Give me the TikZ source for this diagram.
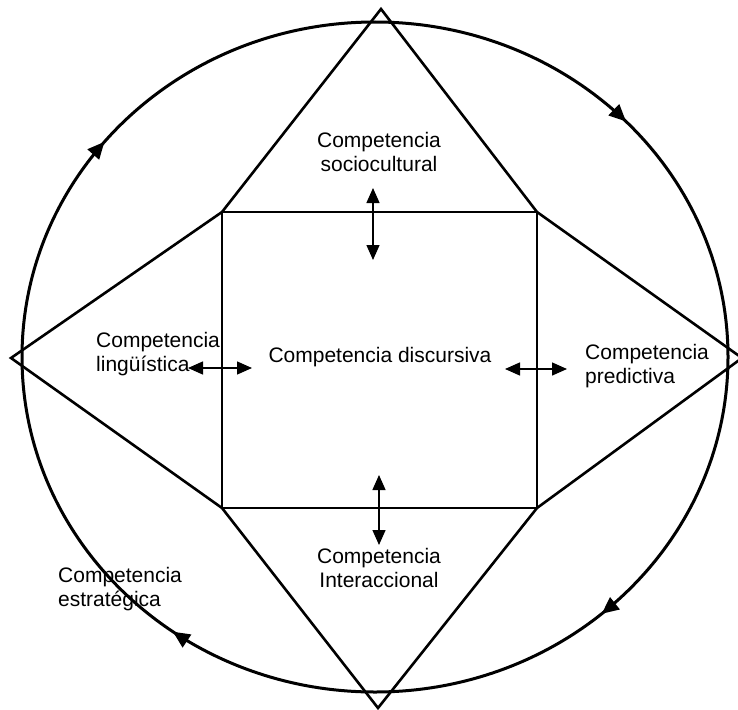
\documentclass[tikz,border=0pt]{standalone}
\usepackage{fontspec}
\setmainfont{Liberation Sans}
\usetikzlibrary{arrows.meta,decorations.markings}
\begin{document}
\begin{tikzpicture}[x=1pt,y=1pt,
  shapeline/.style={line width=2.6pt, line join=miter},
  circline/.style={line width=3pt},
  dbl/.style={line width=1.4pt, {Triangle[length=15pt,width=13pt]}-{Triangle[length=15pt,width=13pt]}},
  lbl/.style={inner sep=0pt, font=\fontsize{21}{24.5}\selectfont},
  circarrow/.style={decoration={markings,
     mark=at position 0.137 with {\arrow{Triangle[length=17pt,width=15pt]}},
     mark=at position 0.349 with {\arrow{Triangle[length=17pt,width=15pt]}},
     mark=at position 0.609 with {\arrow{Triangle[length=17pt,width=15pt]}},
     mark=at position 0.878 with {\arrow{Triangle[length=17pt,width=15pt]}}},
     postaction={decorate}}
]
\useasboundingbox (0,0) rectangle (738,-709);
% circle
\coordinate (c) at (375,-357);
\draw[circline,circarrow] (c) ++(353,0) arc[start angle=0,end angle=-360,x radius=353,y radius=335];
% square
\coordinate (sq1) at (222,-212);
\coordinate (sq2) at (537,-212);
\coordinate (sq3) at (537,-508);
\coordinate (sq4) at (222,-508);
\coordinate (vt) at (381,-9);
\coordinate (vl) at (11,-358);
\coordinate (vr) at (742,-358);
\coordinate (vb) at (378,-708);
\draw[shapeline] (sq1) -- (sq2) -- (sq3) -- (sq4) -- cycle;
\draw[shapeline] (sq1) -- (vt) -- (sq2);
\draw[shapeline] (sq2) -- (vr) -- (sq3);
\draw[shapeline] (sq3) -- (vb) -- (sq4);
\draw[shapeline] (sq4) -- (vl) -- (sq1);
% double arrows
\coordinate (at1) at (373,-188);
\coordinate (at2) at (373,-260);
\coordinate (ab1) at (379,-475);
\coordinate (ab2) at (379,-545);
\coordinate (al1) at (188,-368);
\coordinate (al2) at (252,-368);
\coordinate (ar1) at (505,-369);
\coordinate (ar2) at (567,-369);
\draw[dbl] (at1) -- (at2);
\draw[dbl] (ab1) -- (ab2);
\draw[dbl] (al1) -- (al2);
\draw[dbl] (ar1) -- (ar2);
% labels
\node[lbl,align=center] (socio) at (379,-152) {Competencia\\sociocultural};
\node[lbl,align=left,anchor=west] (ling) at (96,-354) {Competencia\\lingüística};
\node[lbl] (disc) at (380,-357) {Competencia discursiva};
\node[lbl,align=left,anchor=west] (pred) at (585,-366) {Competencia\\predictiva};
\node[lbl,align=center] (inter) at (379,-568) {Competencia\\Interaccional};
\node[lbl,align=left,anchor=west] (estr) at (58,-589) {Competencia\\estratégica};
\end{tikzpicture}
\end{document}
